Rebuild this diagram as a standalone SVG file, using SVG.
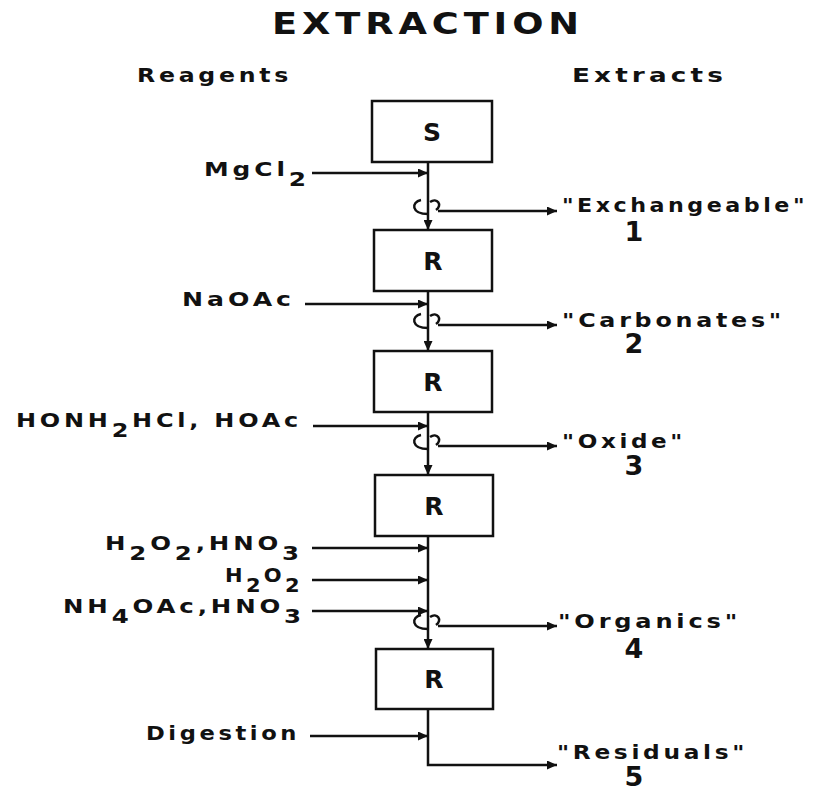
<svg xmlns="http://www.w3.org/2000/svg" width="820" height="792" viewBox="0 0 820 792">
<style>
  .t{font-family:"DejaVu Sans","Liberation Sans",sans-serif;font-weight:bold;fill:#111;}
  .lbl{font-size:19px;letter-spacing:3px;}
  .ttl{font-size:30px;letter-spacing:4px;}
  .num{font-size:27px;text-anchor:middle;}
  .box rect{fill:#fff;stroke:#111;stroke-width:2.5;}
  .box text{font-size:25px;text-anchor:middle;}
  .ln{fill:none;stroke:#111;stroke-width:2.5;}
  .sw{fill:none;stroke:#111;stroke-width:2.5;}
</style>
<defs>
  <marker id="ah" markerUnits="userSpaceOnUse" markerWidth="10" markerHeight="9" refX="10" refY="4.5" orient="auto">
    <path d="M0,0 L10,4.5 L0,9 z" fill="#111"/>
  </marker>
</defs>
<rect width="820" height="792" fill="#fff"/>

<text class="t ttl" x="272" y="34" textLength="312" lengthAdjust="spacingAndGlyphs">EXTRACTION</text>
<text class="t lbl" x="137" y="82" textLength="155" lengthAdjust="spacingAndGlyphs">Reagents</text>
<text class="t lbl" x="572" y="82" textLength="155" lengthAdjust="spacingAndGlyphs">Extracts</text>

<g id="node-S" class="box"><rect x="372" y="101" width="120" height="61"/><text class="t" x="432" y="141">S</text></g>
<g id="node-R1" class="box"><rect x="374" y="230" width="118" height="61"/><text class="t" x="433" y="270">R</text></g>
<g id="node-R2" class="box"><rect x="374" y="351" width="118" height="61"/><text class="t" x="433" y="391">R</text></g>
<g id="node-R3" class="box"><rect x="375" y="475" width="118" height="61"/><text class="t" x="434" y="515">R</text></g>
<g id="node-R4" class="box"><rect x="376" y="649" width="117" height="60"/><text class="t" x="434" y="688">R</text></g>

<g id="connectors">
  <path class="ln" d="M428 162 V230" marker-end="url(#ah)"/>
  <path class="ln" d="M428 291 V351" marker-end="url(#ah)"/>
  <path class="ln" d="M428 412 V475" marker-end="url(#ah)"/>
  <path class="ln" d="M428 536 V649" marker-end="url(#ah)"/>
  <path class="ln" d="M428 709 V765 H557" marker-end="url(#ah)"/>

  <path class="ln" d="M312 173 H428" marker-end="url(#ah)"/>
  <path class="ln" d="M305 304 H428" marker-end="url(#ah)"/>
  <path class="ln" d="M313 426 H428" marker-end="url(#ah)"/>
  <path class="ln" d="M312 548 H428" marker-end="url(#ah)"/>
  <path class="ln" d="M312 580 H428" marker-end="url(#ah)"/>
  <path class="ln" d="M312 611 H428" marker-end="url(#ah)"/>
  <path class="ln" d="M310 736 H428" marker-end="url(#ah)"/>

  <path class="ln" d="M438 211 H557" marker-end="url(#ah)"/>
  <path class="ln" d="M438 325 H557" marker-end="url(#ah)"/>
  <path class="ln" d="M438 446 H557" marker-end="url(#ah)"/>
  <path class="ln" d="M438 626 H557" marker-end="url(#ah)"/>

  <g id="swirls">
    <path class="sw" d="M421 200 C411 202 411 214 428 214 M430 202 C437 197 443 205 436 210"/>
    <path class="sw" d="M421 314 C411 316 411 328 428 328 M430 316 C437 311 443 319 436 324"/>
    <path class="sw" d="M421 435 C411 437 411 449 428 449 M430 437 C437 432 443 440 436 445"/>
    <path class="sw" d="M421 615 C411 617 411 629 428 629 M430 617 C437 612 443 620 436 625"/>
  </g>
</g>

<g id="reagents">
  <text class="t lbl" x="204" y="176" textLength="106" lengthAdjust="spacingAndGlyphs">MgCl<tspan dy="10">2</tspan></text>
  <text class="t lbl" x="182" y="306" textLength="113" lengthAdjust="spacingAndGlyphs">NaOAc</text>
  <text class="t lbl" x="16" y="427" textLength="286" lengthAdjust="spacingAndGlyphs">HONH<tspan dy="10">2</tspan><tspan dy="-10">HCl, HOAc</tspan></text>
  <text class="t lbl" x="105" y="550" textLength="198" lengthAdjust="spacingAndGlyphs">H<tspan dy="10">2</tspan><tspan dy="-10">O</tspan><tspan dy="10">2</tspan><tspan dy="-10">,HNO</tspan><tspan dy="10">3</tspan></text>
  <text class="t lbl" x="225" y="582" textLength="78" lengthAdjust="spacingAndGlyphs">H<tspan dy="10">2</tspan><tspan dy="-10">O</tspan><tspan dy="10">2</tspan></text>
  <text class="t lbl" x="63" y="613" textLength="242" lengthAdjust="spacingAndGlyphs">NH<tspan dy="10">4</tspan><tspan dy="-10">OAc,HNO</tspan><tspan dy="10">3</tspan></text>
  <text class="t lbl" x="146" y="740" textLength="154" lengthAdjust="spacingAndGlyphs">Digestion</text>
</g>

<g id="extracts">
  <text class="t lbl" x="562" y="212" textLength="246" lengthAdjust="spacingAndGlyphs">"Exchangeable"</text>
  <text class="t num" x="634" y="241">1</text>
  <text class="t lbl" x="562" y="327" textLength="223" lengthAdjust="spacingAndGlyphs">"Carbonates"</text>
  <text class="t num" x="634" y="353">2</text>
  <text class="t lbl" x="562" y="448" textLength="124" lengthAdjust="spacingAndGlyphs">"Oxide"</text>
  <text class="t num" x="634" y="475">3</text>
  <text class="t lbl" x="558" y="628" textLength="183" lengthAdjust="spacingAndGlyphs">"Organics"</text>
  <text class="t num" x="634" y="658">4</text>
  <text class="t lbl" x="557" y="759" textLength="191" lengthAdjust="spacingAndGlyphs">"Residuals"</text>
  <text class="t num" x="634" y="786" font-size="20">5</text>
</g>
</svg>
